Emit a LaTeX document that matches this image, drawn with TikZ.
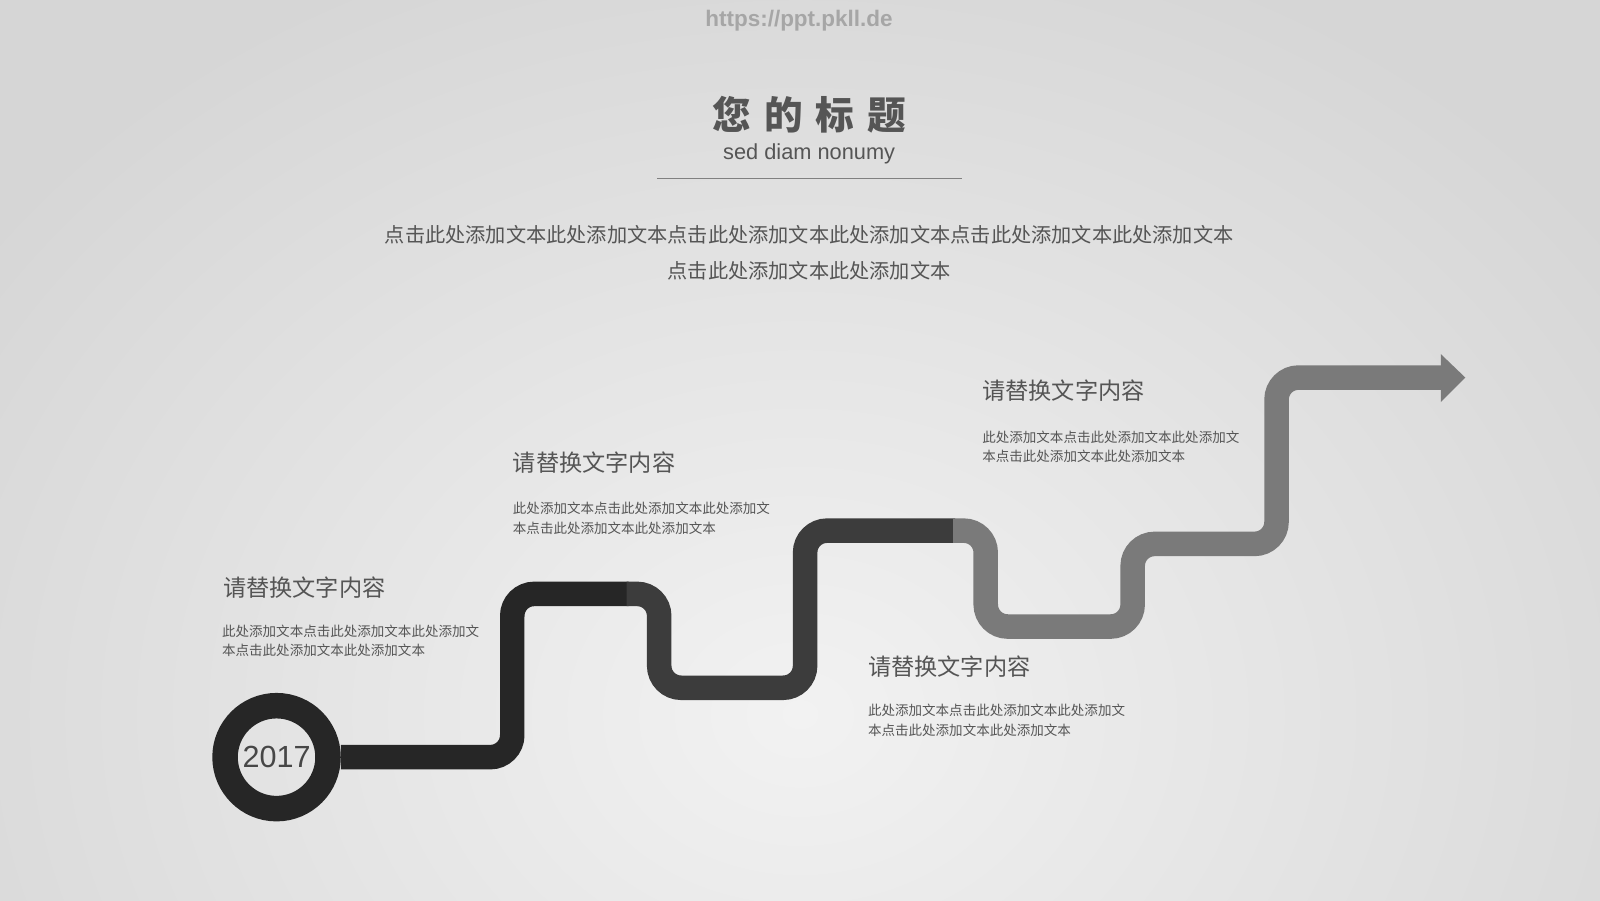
\documentclass[tikz,border=0pt]{standalone}
\usepackage{fontspec}
\setmainfont{Noto Sans CJK SC}
\newfontfamily\latinfont{Liberation Sans}
\usetikzlibrary{positioning}
\definecolor{pathdark}{HTML}{262626}
\definecolor{pathmid}{HTML}{3C3C3C}
\definecolor{pathlight}{HTML}{7A7A7A}
\definecolor{txtgray}{HTML}{555555}
\definecolor{bgin}{HTML}{F2F2F2}
\definecolor{bgout}{HTML}{D6D6D6}
\tikzstyle{road} = [line width=0.245cm, rounded corners=0.22cm]
\tikzstyle{heading} = [anchor=west, inner sep=0pt, text=txtgray, font=\fontsize{6.6pt}{7pt}\selectfont]
\tikzstyle{body} = [anchor=west, align=left, inner sep=0pt, text=txtgray, font=\fontsize{3.85pt}{5.6pt}\selectfont]
\begin{document}
\begin{tikzpicture}[x=0.010204cm, y=-0.010204cm]
            % Background
            \useasboundingbox (0,0) rectangle (1568,882);
            \clip (0,0) rectangle (1568,882);
            \shade[inner color=bgin, outer color=bgout] (-200,-100) rectangle (1768,1500);
            % Title block
            \node [text=gray!70, font=\latinfont\bfseries\fontsize{6.4pt}{7pt}\selectfont] (url) at (783,20) {https://ppt.pkll.de};
            \node [text=txtgray, font=\bfseries\fontsize{11pt}{12pt}\selectfont] (title) at (793,112) {您\,\,的\,\,标\,\,题};
            \node [text=txtgray, font=\latinfont\fontsize{6.2pt}{7pt}\selectfont] (sub) at (793,151) {sed diam nonumy};
            \coordinate (ruleL) at (644,175);
            \coordinate (ruleR) at (943,175);
            \draw [gray, line width=0.4pt] (ruleL) -- (ruleR);
            \node [text=txtgray, align=center, font=\fontsize{5.75pt}{10.2pt}\selectfont] (intro) at (793,248) {点击此处添加文本此处添加文本点击此处添加文本此处添加文本点击此处添加文本此处添加文本\\点击此处添加文本此处添加文本};
            % Road
            \node [circle, draw=pathdark, line width=0.255cm, minimum size=1.03cm, inner sep=0pt, text=pathdark!85, font=\latinfont\fontsize{8.7pt}{9pt}\selectfont] (year) at (271,742) {2017};
            \draw [road, pathdark] (year.east) -- (502,742) -- (502,582) -- (616,582);
            \draw [road, pathmid] (614,582) -- (646,582) -- (646,674) -- (789,674) -- (789,520) -- (936,520);
            \draw [road, pathlight] (934,520) -- (966,520) -- (966,614) -- (1110,614) -- (1110,533) -- (1251,533) -- (1251,370) -- (1414,370);
            \fill [pathlight] (1412,347) -- (1436,370) -- (1412,394) -- cycle;
            % Labels
            \node [heading] (h1) at (218,576) {请替换文字内容};
            \node [body] (b1) at (217,628) {此处添加文本点击此处添加文本此处添加文\\本点击此处添加文本此处添加文本};
            \node [heading] (h2) at (502,453) {请替换文字内容};
            \node [body] (b2) at (502,508) {此处添加文本点击此处添加文本此处添加文\\本点击此处添加文本此处添加文本};
            \node [heading] (h3) at (850,653) {请替换文字内容};
            \node [body] (b3) at (850,706) {此处添加文本点击此处添加文本此处添加文\\本点击此处添加文本此处添加文本};
            \node [heading] (h4) at (962,383) {请替换文字内容};
            \node [body] (b4) at (962,438) {此处添加文本点击此处添加文本此处添加文\\本点击此处添加文本此处添加文本};
\end{tikzpicture}
\end{document}
